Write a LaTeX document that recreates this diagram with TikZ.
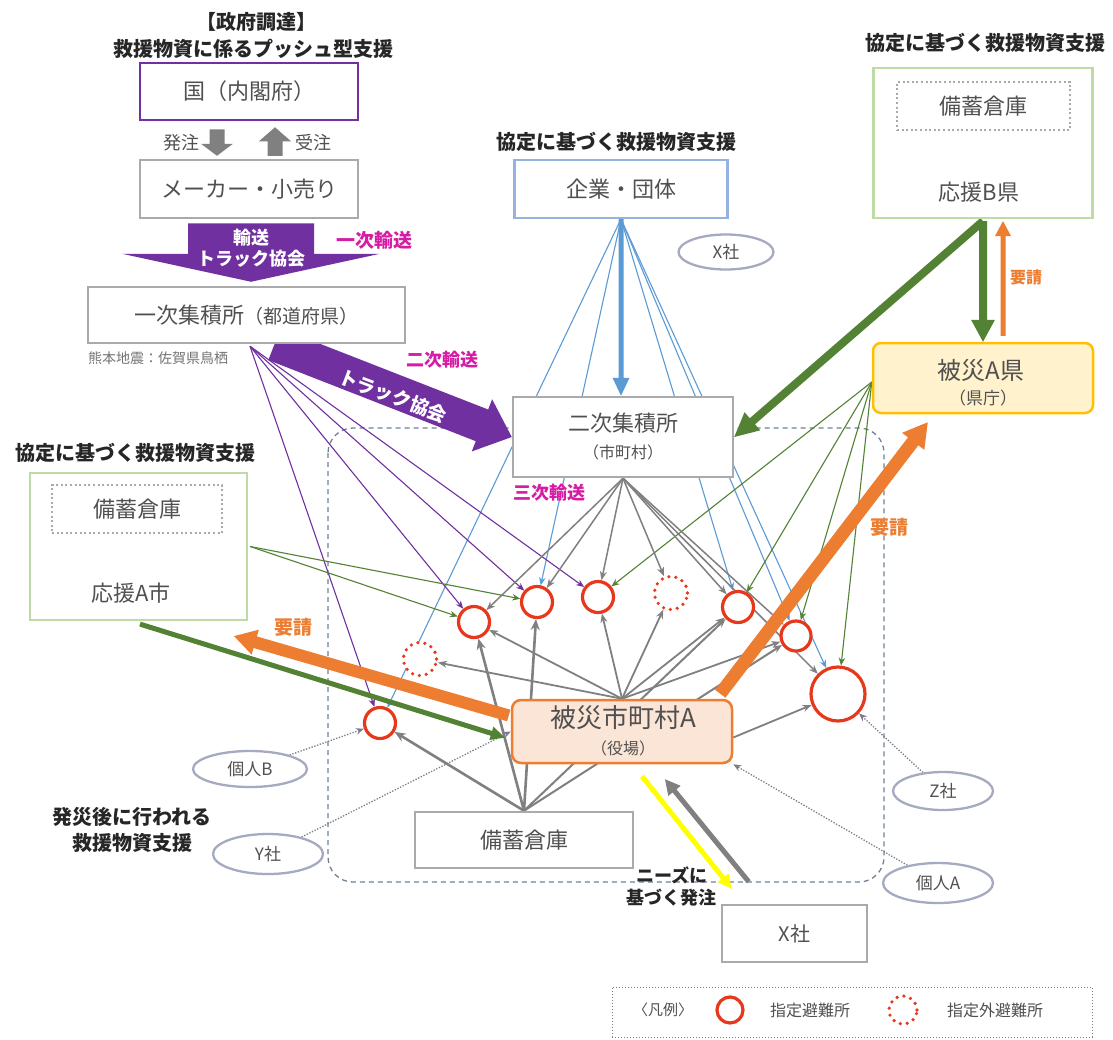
\documentclass[tikz,border=0pt]{standalone}
\usepackage{fontspec}
\setmainfont{Noto Sans CJK JP}
\usetikzlibrary{calc,arrows.meta,shapes.geometric}
\pgfdeclarelayer{bg}
\pgfsetlayers{bg,main}
\definecolor{cPurple}{RGB}{112,48,160}
\definecolor{cGrayBox}{RGB}{170,170,170}
\definecolor{cText}{RGB}{80,80,80}
\definecolor{cTitle}{RGB}{38,38,38}
\definecolor{cBlueBox}{RGB}{150,178,222}
\definecolor{cGreenBox}{RGB}{190,218,165}
\definecolor{cYellowB}{RGB}{255,192,0}
\definecolor{cYellowF}{RGB}{255,242,204}
\definecolor{cOrange}{RGB}{237,125,49}
\definecolor{cOrangeF}{RGB}{251,229,214}
\definecolor{cRed}{RGB}{232,56,28}
\definecolor{cGreen}{RGB}{84,130,53}
\definecolor{cBlue}{RGB}{91,155,213}
\definecolor{cArrowGray}{RGB}{128,128,128}
\definecolor{cMagenta}{RGB}{214,28,164}
\definecolor{cEll}{RGB}{165,170,192}
\definecolor{cDash}{RGB}{110,130,150}
\definecolor{cDot}{RGB}{120,125,140}
\definecolor{cYellow}{RGB}{255,255,0}
\newcommand\myfs[1]{\fontsize{#1}{#1}\selectfont}
\newcommand\blockarrow[6]{%
  \path ($(#3)!#6!(#2)$) coordinate (bahead);
  \fill[#1] ($(#2)!#4!90:(#3)$) -- ($(bahead)!#4!90:(#3)$) -- ($(bahead)!#5!90:(#3)$) -- (#3) -- ($(bahead)!#5!-90:(#3)$) -- ($(bahead)!#4!-90:(#3)$) -- ($(#2)!#4!-90:(#3)$) -- cycle;}
\begin{document}
\begin{tikzpicture}[x=1pt,y=-1pt,
  box/.style={draw=cGrayBox, line width=2.5pt, fill=white, inner sep=0pt, text=cText},
  grnbox/.style={draw=cGreenBox, line width=2.2pt, fill=white, inner sep=0pt},
  dotbox/.style={draw=cGrayBox, line width=2pt, dash pattern=on 2pt off 2.6pt, inner sep=0pt, text=cText},
  txt/.style={text=cText, inner sep=0pt},
  ttl/.style={text=cTitle, inner sep=0pt, font=\bfseries\myfs{20}},
  mag/.style={text=cMagenta, inner sep=0pt, font=\bfseries\myfs{18}},
  req/.style={text=cOrange, inner sep=0pt, font=\bfseries\myfs{19}},
  wtxt/.style={text=white, inner sep=0pt, font=\bfseries\myfs{18}},
  shelter/.style={circle, draw=cRed, line width=3.2pt, fill=white, inner sep=0pt, minimum size=#1},
  shelterx/.style={circle, draw=cRed, line width=3.6pt, dash pattern=on 0pt off 7pt, line cap=round, fill=white, inner sep=0pt, minimum size=#1},
  oval/.style={ellipse, draw=cEll, line width=2.3pt, fill=white, text=cText, inner sep=0pt, font=\myfs{17}},
  lnPurple/.style={draw=cPurple, line width=1.1pt, -{Stealth[length=8pt,width=6.5pt]}},
  lnBlue/.style={draw=cBlue, line width=1.1pt, -{Stealth[length=8pt,width=6.5pt]}},
  lnGreen/.style={draw=cGreen, line width=1.1pt, -{Stealth[length=8pt,width=6.5pt]}},
  lnGray/.style={draw=cArrowGray, line width=1.5pt, -{Stealth[length=9pt,width=7pt]}},
  lnGrayT/.style={draw=cArrowGray, line width=2.6pt, -{Stealth[length=11pt,width=9pt]}},
  lnDot/.style={draw=cDot, line width=1.3pt, dash pattern=on 1.3pt off 1.6pt, -{Stealth[length=8pt,width=6.5pt]}}
]
\useasboundingbox (0,0) rectangle (1113,1039);

% ---------- titles ----------
\node[ttl] (tGov1) at (256,22) {【政府調達】};
\node[ttl] (tGov2) at (253,49) {救援物資に係るプッシュ型支援};
\node[ttl] (tCenter) at (616,142) {協定に基づく救援物資支援};
\node[ttl] (tRight) at (985,43) {協定に基づく救援物資支援};
\node[ttl] (tLeft) at (135,453) {協定に基づく救援物資支援};
\node[ttl] (tAfter1) at (132,817) {発災後に行われる};
\node[ttl] (tAfter2) at (132,843) {救援物資支援};
\node[ttl, font=\bfseries\myfs{18}] (tNeed1) at (672,875) {ニーズに};
\node[ttl, font=\bfseries\myfs{18}] (tNeed2) at (671,898) {基づく発注};

% ---------- boxes ----------
\node[box, draw=cPurple, minimum width=218pt, minimum height=57pt, font=\myfs{22}] (kuni) at (249,91.5) {国（内閣府）};
\node[box, minimum width=218pt, minimum height=58pt, font=\myfs{22}] (maker) at (249,189) {メーカー・小売り};
\node[box, minimum width=317pt, minimum height=56pt] (ichiji) at (246.5,315) {{\myfs{22}一次集積所}{\myfs{19}（都道府県）}};
\node[box, draw=cBlueBox, line width=2.2pt, minimum width=213pt, minimum height=58pt, font=\myfs{22}] (kigyo) at (621,189) {企業・団体};
\node[box, minimum width=220pt, minimum height=80pt] (niji) at (623,437) {};
\node[txt, font=\myfs{22}] (nijiT1) at (623,423) {二次集積所};
\node[txt, font=\myfs{16}] (nijiT2) at (623,452) {（市町村）};

\node[grnbox, minimum width=219pt, minimum height=150pt] (bkenOuter) at (983,143) {};
\node[dotbox, minimum width=173pt, minimum height=48pt, font=\myfs{22}] (bkenInner) at (983.5,106) {備蓄倉庫};
\node[txt, font=\myfs{22}] (bkenT) at (979,192) {応援B県};

\node[box, draw=cYellowB, fill=cYellowF, rounded corners=8pt, minimum width=220pt, minimum height=70pt] (aken) at (983,378) {};
\node[txt, font=\myfs{24}] (akenT1) at (981,370) {被災A県};
\node[txt, font=\myfs{17}] (akenT2) at (983,398) {（県庁）};

\node[grnbox, minimum width=217pt, minimum height=147pt] (ashiOuter) at (138.5,546.5) {};
\node[dotbox, minimum width=170pt, minimum height=48pt, font=\myfs{22}] (ashiInner) at (137,509) {備蓄倉庫};
\node[txt, font=\myfs{22}] (ashiT) at (131,593) {応援A市};

\node[box, draw=cOrange, fill=cOrangeF, rounded corners=9pt, minimum width=220pt, minimum height=63pt] (shichoson) at (622,731.5) {};
\node[txt, font=\myfs{26}] (shiT1) at (623,718) {被災市町村A};
\node[txt, font=\myfs{16}] (shiT2) at (623,748) {（役場）};

\node[box, minimum width=218pt, minimum height=56pt, font=\myfs{22}] (bichiku) at (524,840) {備蓄倉庫};
\node[box, minimum width=145pt, minimum height=57pt, font=\myfs{20}] (xsha) at (794.5,933.5) {X社};

% ---------- ovals ----------
\node[oval, minimum width=95pt, minimum height=35pt] (xsha2) at (726,252) {X社};
\node[oval, minimum width=114pt, minimum height=36pt] (kojinB) at (250,769) {個人B};
\node[oval, minimum width=110pt, minimum height=40pt] (ysha) at (268,854) {Y社};
\node[oval, minimum width=100pt, minimum height=38pt] (zsha) at (943,791) {Z社};
\node[oval, minimum width=110pt, minimum height=40pt] (kojinA) at (938,883) {個人A};

% ---------- shelters ----------
\node[shelter=31pt] (S1) at (380,723) {};
\node[shelterx=33pt] (S2) at (420,659) {};
\node[shelter=31pt] (S3) at (474,622) {};
\node[shelter=31pt] (S4) at (537,602) {};
\node[shelter=31pt] (S5) at (598,597) {};
\node[shelterx=33pt] (S6) at (671,593) {};
\node[shelter=31pt] (S7) at (738,607) {};
\node[shelter=30pt] (S8) at (796,636) {};
\node[shelter=54pt] (S9) at (838,694) {};

% ---------- labels ----------
\node[txt, font=\myfs{18}] (lOrder) at (181,143) {発注};
\node[txt, font=\myfs{18}] (lRecv) at (313,143) {受注};
\node[mag, font=\bfseries\myfs{19}] (l1st) at (374,240) {一次輸送};
\node[mag] (l2nd) at (442,360) {二次輸送};
\node[mag] (l3rd) at (549,493) {三次輸送};
\node[req] (lReqL) at (293,627) {要請};
\node[req] (lReqM) at (889,527) {要請};
\node[req, font=\bfseries\myfs{16}] (lReqR) at (1026,277) {要請};
\node[txt, text=black!55, font=\myfs{14}] (lKuma) at (158,358) {熊本地震：佐賀県鳥栖};
\node[wtxt] (lTr1a) at (251,238) {輸送};
\node[wtxt] (lTr1b) at (251,259) {トラック協会};
\node[wtxt, font=\bfseries\myfs{19}, rotate=-21] (lTr2) at (393,396) {トラック協会};

% ---------- legend ----------
\node[draw=cDot, line width=1pt, dotted, minimum width=480pt, minimum height=50pt, inner sep=0pt] (legend) at (852,1012) {};
\node[txt, font=\myfs{15}] (lgTitle) at (663,1010) {〈凡例〉};
\node[shelter=26pt] (lgS) at (730,1010) {};
\node[txt, font=\myfs{16}] (lgST) at (810,1010) {指定避難所};
\node[shelterx=28pt] (lgX) at (903,1010) {};
\node[txt, font=\myfs{16}] (lgXT) at (995,1010) {指定外避難所};

% ---------- coordinates ----------
\coordinate (ichijiFan) at ($(ichiji.south)+(3.5,2)$);
\coordinate (ashiFan) at ($(ashiOuter.east)+(2,0)$);
\coordinate (akenFan) at ($(aken.west)+(0,4)$);
\coordinate (shiFanR) at ($(shichoson.east)+(0,6)$);
\coordinate (orderA) at ($(kuni.south)+(-32,8)$);
\coordinate (orderB) at ($(maker.north)+(-32,-3)$);
\coordinate (recvA) at ($(maker.north)+(26,-3)$);
\coordinate (recvB) at ($(kuni.south)+(26,6)$);
\coordinate (tr1A) at ($(maker.south)+(2,4)$);
\coordinate (tr1B) at ($(ichiji.north)+(4.5,-4)$);
\coordinate (tr2A) at ($(ichiji.south)+(28,0)$);
\coordinate (bkenOut) at ($(bkenOuter.south)+(0,2)$);
\coordinate (reqBA) at ($(aken.north)+(20,-6)$);
\coordinate (reqBB) at ($(bkenOuter.south)+(20,2)$);
\coordinate (reqAA) at ($(shichoson.north east)+(-13,-5)$);
\coordinate (reqAB) at ($(aken.south west)+(56,8)$);
\coordinate (reqCA) at ($(shichoson.west)+(-2,-16)$);
\coordinate (reqCB) at ($(ashiOuter.south east)+(-14,15)$);
\coordinate (supA1) at ($(ashiOuter.south)+(1.5,3)$);
\coordinate (supA2) at ($(shichoson.west)+(-6,6)$);
\coordinate (bArrA) at ($(bkenInner.south)+(0,9)$);
\coordinate (bArrB) at ($(bkenInner.south)+(0,37)$);
\coordinate (aArrA) at ($(ashiInner.south)+(-3,9)$);
\coordinate (aArrB) at ($(ashiInner.south)+(-3,35)$);
\coordinate (needA) at ($(shichoson.south)+(20,12)$);
\coordinate (needB) at ($(xsha.north west)+(11,-15)$);
\coordinate (ordA) at ($(xsha.north west)+(28,-22)$);
\coordinate (ordB) at ($(shichoson.south)+(43,15)$);
\coordinate (blueEnd) at (kigyo.south |- niji.north);

% ---------- background: region, connectors, block arrows ----------
\begin{pgfonlayer}{bg}
\fill[white] (0,0) rectangle (1113,1039);
\draw[draw=cDash, line width=1.3pt, dash pattern=on 5pt off 4pt, rounded corners=25pt] (328,428) rectangle (884,882);

\foreach \s in {S1,S4,S7,S8,S9} \draw[lnBlue] (kigyo.south) -- (\s);
\foreach \s in {S1,S3,S4,S5} \draw[lnPurple] (ichijiFan) -- (\s);
\foreach \s in {S3,S4} \draw[lnGreen] (ashiFan) -- (\s);
\foreach \s in {S5,S7,S8,S9} \draw[lnGreen] (akenFan) -- (\s);
\foreach \s in {S3,S4,S5,S6,S7,S8,S9} \draw[lnGray] (niji.south) -- (\s);
\foreach \s in {S2,S3,S5,S6,S7,S8} \draw[lnGray, line width=1.8pt] (shichoson.north) -- (\s);
\draw[lnGray, line width=1.8pt] (shiFanR) -- (S9);
\foreach \s in {S1,S3,S4} \draw[lnGrayT] (bichiku.north) -- (\s);
\foreach \s in {S7,S8} \draw[lnGray, line width=2pt] (bichiku.north) -- (\s);

\draw[lnDot] (kojinB) -- (S1);
\draw[lnDot] (ysha) -- (shichoson.west);
\draw[lnDot] (zsha) -- (S9);
\draw[lnDot] (kojinA) -- (shichoson.south east);

\blockarrow{cArrowGray}{orderA}{orderB}{7.5pt}{16pt}{12pt}
\blockarrow{cArrowGray}{recvA}{recvB}{7.5pt}{16pt}{14pt}
\blockarrow{cPurple}{tr1A}{tr1B}{63pt}{129pt}{28pt}
\blockarrow{cPurple}{tr2A}{niji.west}{17pt}{28pt}{32pt}
\blockarrow{cBlue}{kigyo.south}{blueEnd}{2.5pt}{8.5pt}{18pt}
\blockarrow{cGreen}{bkenOut}{niji.east}{4pt}{12pt}{24pt}
\blockarrow{cGreen}{bkenOut}{aken.north}{4pt}{12pt}{22pt}
\blockarrow{cOrange}{reqBA}{reqBB}{2.5pt}{8pt}{15pt}
\blockarrow{cOrange}{reqAA}{reqAB}{6.5pt}{14pt}{24pt}
\blockarrow{cOrange}{reqCA}{reqCB}{6pt}{13pt}{22pt}
\blockarrow{cGreen}{supA1}{supA2}{2.5pt}{7pt}{14pt}
\blockarrow{cArrowGray}{bArrA}{bArrB}{12pt}{23pt}{14pt}
\blockarrow{cArrowGray}{aArrA}{aArrB}{12pt}{22pt}{15pt}
\blockarrow{cYellow}{needA}{needB}{2.5pt}{7pt}{14pt}
\blockarrow{cArrowGray}{ordA}{ordB}{2.5pt}{8pt}{15pt}
\end{pgfonlayer}
\end{tikzpicture}
\end{document}
